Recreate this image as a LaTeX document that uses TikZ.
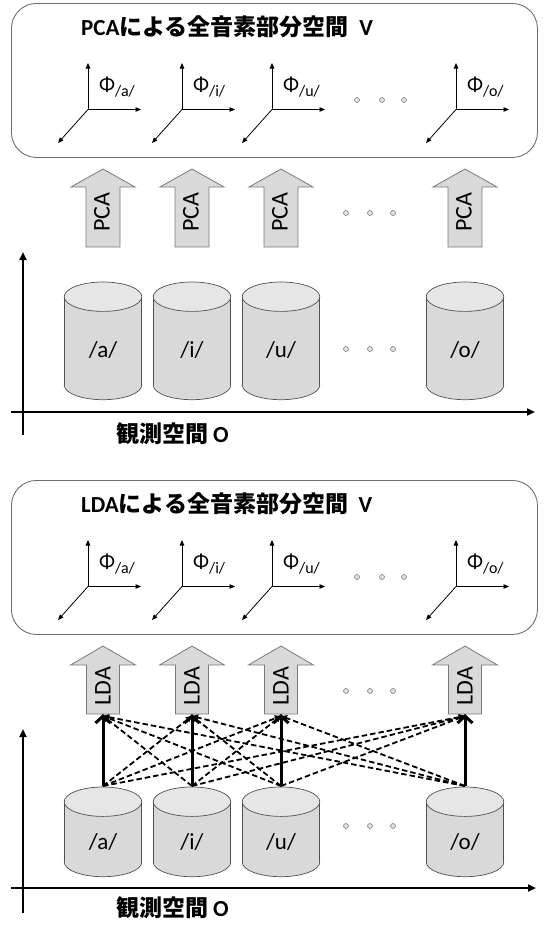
\documentclass[tikz,border=0pt]{standalone}
\usepackage{fontspec}
\setmainfont{Carlito}
\newfontfamily\cjk{Noto Sans CJK JP}
\usetikzlibrary{arrows.meta}
\definecolor{boxgray}{HTML}{6E6E6E}
\definecolor{cylfill}{HTML}{D9D9D9}
\definecolor{cyltop}{HTML}{E6E6E6}
\definecolor{cyledge}{HTML}{505050}
\definecolor{arrfill}{HTML}{D9D9D9}
\definecolor{arredge}{HTML}{7A7A7A}
\definecolor{dotgray}{HTML}{808080}
\definecolor{dotfill}{HTML}{E0E0E0}
\begin{document}
\begin{tikzpicture}[x=1pt,y=-1pt,
  panel/.style={draw=boxgray, line width=0.9pt, rounded corners=25pt, inner sep=0pt, minimum width=526pt, minimum height=154pt, anchor=north west},
  titlefont/.style={font=\fontsize{23}{23}\selectfont\bfseries},
  cylbody/.style={fill=cylfill, draw=cyledge, line width=0.7pt},
  cyltopst/.style={fill=cyltop, draw=cyledge, line width=0.7pt},
  bigarrow/.style={fill=arrfill, draw=arredge, line width=0.8pt},
  arrlabel/.style={rotate=90, font=\fontsize{24}{24}\selectfont, inner sep=0pt},
  cyllabel/.style={anchor=base, font=\fontsize{23}{23}\selectfont, inner sep=0pt},
  philabel/.style={anchor=base west, font=\fontsize{21}{21}\selectfont, inner sep=0pt},
  smallax/.style={line width=0.8pt, -{Triangle[length=5.5pt,width=4.5pt]}},
  bigax/.style={line width=2.3pt, -{Triangle[length=8pt,width=7pt]}},
  dotc/.style={circle, draw=dotgray, fill=dotfill, inner sep=0pt, minimum size=5pt, line width=0.6pt},
  solidconn/.style={line width=3pt, -{Straight Barb[length=7pt,width=15pt,line width=3pt]}},
  dashconn/.style={line width=1.8pt, dash pattern=on 5.5pt off 3pt, -{Triangle[length=6pt,width=6pt]}},
  obsfont/.style={anchor=base west, font=\fontsize{23}{23}\selectfont\bfseries, inner sep=0pt}
]
\useasboundingbox (0,0) rectangle (544,926);

% ================= panels (top: PCA, bottom: LDA) =================
\foreach \p/\dy/\meth in {1/0/PCA, 2/477/LDA}{
  \node[panel] (box\p) at (11,3+\dy) {};
  \node[titlefont, anchor=base west, inner sep=0pt] (title\p) at (81,35+\dy) {\meth{\cjk による全音素部分空間}\ \ V};
  \foreach \n/\ox in {a/88, i/182, u/272, o/456}{
    \coordinate (o\n\p) at (\ox,109.5+\dy);
    \coordinate (up\n\p) at (\ox,63+\dy);
    \coordinate (rt\n\p) at (\ox+53,109.5+\dy);
    \coordinate (dg\n\p) at (\ox-30,143+\dy);
    \draw[smallax] (o\n\p) -- (up\n\p);
    \draw[smallax] (o\n\p) -- (rt\n\p);
    \draw[smallax] (o\n\p) -- (dg\n\p);
    \node[philabel] (phi\n\p) at (\ox+11,91+\dy) {Φ\raisebox{-5pt}{\fontsize{16}{16}\selectfont /\n/}};
  }
  \foreach \k/\x in {1/357, 2/382, 3/404}{
    \node[dotc] (bd\k\p) at (\x,100+\dy) {};
  }
}

% ================= PCA arrows (top) =================
\foreach \n/\cx in {a/103, i/192, u/281, o/465}{
  \draw[bigarrow] (\cx-17,247) -- (\cx-17,187) -- (\cx-32,187) -- (\cx,169) -- (\cx+32,187) -- (\cx+17,187) -- (\cx+17,247) -- cycle;
  \node[arrlabel] (pca\n) at (\cx-1,212) {PCA};
}
% ================= LDA arrows (bottom) =================
\foreach \n/\cx in {a/103, i/192, u/281, o/465}{
  \draw[bigarrow] (\cx-16.5,714) -- (\cx-16.5,665) -- (\cx-32.5,665) -- (\cx,646) -- (\cx+32.5,665) -- (\cx+16.5,665) -- (\cx+16.5,714) -- cycle;
  \node[arrlabel] (lda\n) at (\cx,686) {LDA};
  \coordinate (ab\n) at (\cx,714);
  \coordinate (abd\n) at (\cx,716);
}

% ================= cylinders =================
% top panel: top 282, bottom 400 ; bottom panel: top 787, bottom 877
\foreach \p/\tc/\bc/\ly in {1/296.7/385/357, 2/801.7/862/849}{
  \foreach \n/\cx in {a/103, i/192, u/281, o/465}{
    \fill[cylfill] (\cx,\bc) ellipse[x radius=38.8, y radius=14.7];
    \draw[cyledge, line width=0.7pt] (\cx,\bc) ellipse[x radius=38.8, y radius=14.7];
    \fill[cylfill] (\cx-38.8,\tc) rectangle (\cx+38.8,\bc);
    \draw[cyledge, line width=0.7pt] (\cx-38.8,\tc) -- (\cx-38.8,\bc);
    \draw[cyledge, line width=0.7pt] (\cx+38.8,\tc) -- (\cx+38.8,\bc);
    \draw[cyltopst] (\cx,\tc) ellipse[x radius=38.8, y radius=14.7];
    \node[cyllabel] (cyl\n\p) at (\cx,\ly) {/\n/};
  }
}
\foreach \n/\cx in {a/103, i/192, u/281, o/465}{
  \coordinate (ct\n) at (\cx,786);
}

% ================= dots between columns =================
\foreach \k/\x in {1/346, 2/370, 3/393}{
  \node[dotc] (da\k) at (\x,213) {};
  \node[dotc] (dc\k) at (\x,349) {};
  \node[dotc] (db\k) at (\x,691) {};
  \node[dotc] (dd\k) at (\x,826) {};
}

% ================= observation axes =================
\coordinate (vy1s) at (23,435); \coordinate (vy1e) at (23,252);
\coordinate (hx1s) at (11,412); \coordinate (hx1e) at (535,412);
\draw[bigax] (vy1s) -- (vy1e);
\draw[bigax] (hx1s) -- (hx1e);
\node[obsfont] (obs1) at (116,442) {{\cjk 観測空間}\hspace{5pt}O};

\coordinate (vy2s) at (23,913); \coordinate (vy2e) at (23,729);
\coordinate (hx2s) at (11,888); \coordinate (hx2e) at (536,888);
\draw[bigax] (vy2s) -- (vy2e);
\draw[bigax] (hx2s) -- (hx2e);
\node[obsfont] (obs2) at (116,916) {{\cjk 観測空間}\hspace{5pt}O};

% ================= LDA connectors =================
\foreach \s in {a,i,u,o}{
  \foreach \t in {a,i,u,o}{
    \ifx\s\t
      \draw[solidconn] (ct\s) -- (ab\t);
    \else
      \draw[dashconn] (ct\s) -- (abd\t);
    \fi
  }
}
\end{tikzpicture}
\end{document}
